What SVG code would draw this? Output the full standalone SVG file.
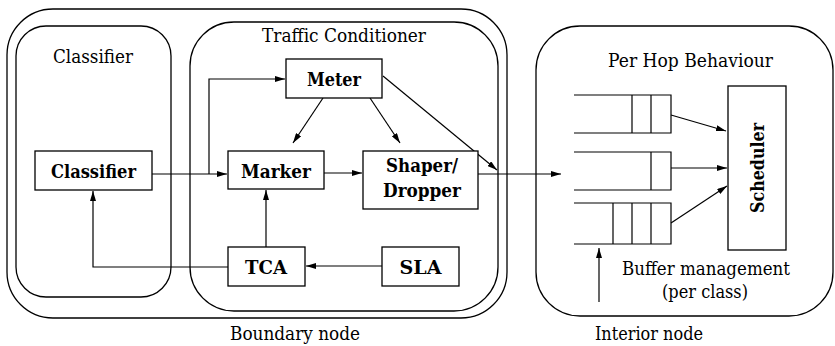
<svg xmlns="http://www.w3.org/2000/svg" width="835" height="346" viewBox="0 0 835 346">
<defs>
<style>
.c{fill:none;stroke:#000;stroke-width:1.3}
.b{fill:#fff;stroke:#000;stroke-width:1.3}
.l{fill:none;stroke:#000;stroke-width:1.2}
text{font-family:'DejaVu Serif', serif;font-size:19px;fill:#000;text-anchor:middle}
.tb{font-weight:bold}
</style>
<marker id="ah" viewBox="0 0 10 6" refX="10" refY="3" markerWidth="10" markerHeight="6" markerUnits="userSpaceOnUse" orient="auto">
<path d="M0,0 L10,3 L0,6 Z" fill="#000"/>
</marker>
</defs>
<rect width="835" height="346" fill="#fff"/>
<g id="boundary-node">
<rect class="c" x="7" y="9" width="500" height="309" rx="46" ry="46"/>
<text x="295" y="340" textLength="130" lengthAdjust="spacingAndGlyphs">Boundary node</text>
</g>
<g id="classifier-area">
<rect class="c" x="16" y="26" width="155" height="271" rx="30" ry="30"/>
<text x="93" y="63" textLength="80" lengthAdjust="spacingAndGlyphs">Classifier</text>
</g>
<g id="traffic-conditioner">
<rect class="c" x="190" y="22" width="308" height="289" rx="44" ry="44"/>
<text x="344" y="42" textLength="164" lengthAdjust="spacingAndGlyphs">Traffic Conditioner</text>
</g>
<g id="interior-node">
<rect class="c" x="536" y="26" width="297" height="290" rx="44" ry="44"/>
<text x="690.5" y="67" textLength="165" lengthAdjust="spacingAndGlyphs">Per Hop Behaviour</text>
<text x="649" y="340" textLength="108" lengthAdjust="spacingAndGlyphs">Interior node</text>
</g>
<g id="connectors">
<path class="l" d="M152,174 H227" marker-end="url(#ah)"/>
<path class="l" d="M209,174 V79 H285" marker-end="url(#ah)"/>
<path class="l" d="M323,98 L293,143" marker-end="url(#ah)"/>
<path class="l" d="M370,98 L400,143" marker-end="url(#ah)"/>
<path class="l" d="M383,76 L497,170" marker-end="url(#ah)"/>
<path class="l" d="M324,173 H362" marker-end="url(#ah)"/>
<path class="l" d="M478,174 H561" marker-end="url(#ah)"/>
<path class="l" d="M266,247 V190" marker-end="url(#ah)"/>
<path class="l" d="M382,266 H306" marker-end="url(#ah)"/>
<path class="l" d="M228,267 H93 V191" marker-end="url(#ah)"/>
<path class="l" d="M671,115 L726,131" marker-end="url(#ah)"/>
<path class="l" d="M671,168 H727" marker-end="url(#ah)"/>
<path class="l" d="M671,223 L727,186" marker-end="url(#ah)"/>
<path class="l" d="M599,302 V248" marker-end="url(#ah)"/>
</g>
<g id="classifier">
<rect class="b" x="35" y="151" width="117" height="39"/>
<text class="tb" x="93.5" y="178" textLength="85" lengthAdjust="spacingAndGlyphs">Classifier</text>
</g>
<g id="meter">
<rect class="b" x="286" y="59" width="96" height="39"/>
<text class="tb" x="334" y="86" textLength="54" lengthAdjust="spacingAndGlyphs">Meter</text>
</g>
<g id="marker">
<rect class="b" x="228" y="151" width="96" height="38"/>
<text class="tb" x="276" y="178" textLength="70" lengthAdjust="spacingAndGlyphs">Marker</text>
</g>
<g id="shaper-dropper">
<rect class="b" x="363" y="151" width="115" height="58"/>
<text class="tb" x="422" y="172" textLength="72" lengthAdjust="spacingAndGlyphs">Shaper/</text>
<text class="tb" x="422" y="197" textLength="78" lengthAdjust="spacingAndGlyphs">Dropper</text>
</g>
<g id="tca">
<rect class="b" x="228" y="247" width="77" height="39"/>
<text class="tb" x="266" y="274" textLength="42" lengthAdjust="spacingAndGlyphs">TCA</text>
</g>
<g id="sla">
<rect class="b" x="382" y="247" width="77" height="39"/>
<text class="tb" x="420.5" y="274" textLength="42" lengthAdjust="spacingAndGlyphs">SLA</text>
</g>
<g id="scheduler">
<rect class="b" x="728" y="86" width="58" height="164"/>
<text class="tb" transform="translate(764,168) rotate(-90)" x="0" y="0" textLength="90" lengthAdjust="spacingAndGlyphs">Scheduler</text>
</g>
<g id="queue-1">
<path class="l" d="M574,95 H671 V133 H574 M632,95 V133 M651,95 V133"/>
</g>
<g id="queue-2">
<path class="l" d="M574,152 H671 V190 H574 M651,152 V190"/>
</g>
<g id="queue-3">
<path class="l" d="M574,203 H671 V244 H574 M613,203 V244 M632,203 V244 M651,203 V244"/>
</g>
<g id="buffer-management">
<text x="706" y="275" textLength="168" lengthAdjust="spacingAndGlyphs">Buffer management</text>
<text x="705" y="298" textLength="86" lengthAdjust="spacingAndGlyphs">(per class)</text>
</g>
</svg>
